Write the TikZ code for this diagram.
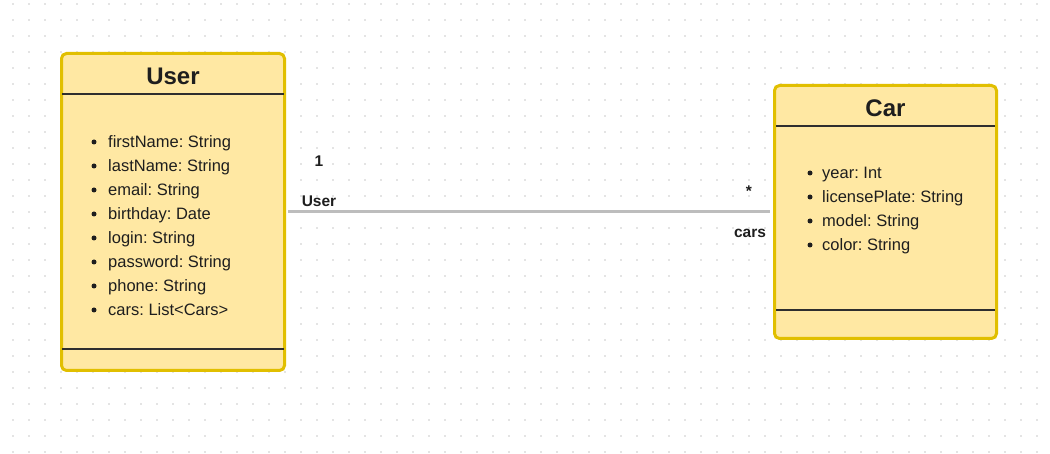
\documentclass[tikz,border=0pt]{standalone}
\usepackage{fontspec}
\setmainfont{Liberation Sans}
\frenchspacing
\definecolor{boxfill}{HTML}{FFE8A3}
\definecolor{boxline}{HTML}{E1BF00}
\definecolor{sepline}{HTML}{2E2E2E}
\definecolor{txt}{HTML}{1E1E1E}
\definecolor{conn}{HTML}{BDBDBD}
\definecolor{griddot}{HTML}{E4E4E4}
\tikzset{
  classbox/.style={draw=boxline, fill=boxfill, line width=3pt, rounded corners=5pt, inner sep=0pt},
  title/.style={font=\bfseries\fontsize{24}{28}\selectfont, text=txt, inner sep=0pt},
  item/.style={font=\fontsize{16.5}{20}\selectfont\frenchspacing, text=txt, anchor=base west, inner sep=0pt},
  bullet/.style={fill=txt, circle, inner sep=0pt, minimum size=5pt},
  sep/.style={draw=sepline, line width=2pt},
  assoc/.style={draw=conn, line width=3pt},
  rolelabel/.style={font=\bfseries\fontsize{15.5}{18}\selectfont, text=txt, inner sep=0pt},
}
\begin{document}
\begin{tikzpicture}[x=1pt,y=-1pt]
\useasboundingbox (0,0) rectangle (1050,454);
\fill[white] (0,0) rectangle (1050,454);
\foreach \i in {0,...,65} {
  \foreach \j in {0,...,28} {
    \fill[griddot] (13+16*\i-1, 4+16*\j-1) rectangle ++(2,2);
  }
}
% User class
\node[classbox, minimum width=223pt, minimum height=317pt] (user) at (173,212) {};
\node[title] (usertitle) at (173,76) {User};
\draw[sep] (62,94) -- (284,94);
\draw[sep] (62,349) -- (284,349);
\foreach \t [count=\k from 0] in {firstName: String, lastName: String, email: String, birthday: Date, login: String, password: String, phone: String, {cars: List<Cars>}} {
  \node[bullet] (ub\k) at (94,142+24*\k) {};
  \node[item] (ui\k) at (108,148+24*\k) {\t};
}
% Car class
\node[classbox, minimum width=222pt, minimum height=253pt] (car) at (885.5,212) {};
\node[title] (cartitle) at (885.5,108) {Car};
\draw[sep] (776,126) -- (995,126);
\draw[sep] (776,310) -- (995,310);
\foreach \t [count=\k from 0] in {year: Int, licensePlate: String, model: String, color: String} {
  \node[bullet] (cb\k) at (810,173+24*\k) {};
  \node[item] (ci\k) at (822,179+24*\k) {\t};
}
% association
\draw[assoc, shorten <=2pt, shorten >=3pt] (user.east) -- (car.west);
\node[rolelabel] (m1) at (319,161) {1};
\node[rolelabel] (r1) at (319,201) {User};
\node[rolelabel] (m2) at (749,191) {*};
\node[rolelabel] (r2) at (750,233) {cars};
\end{tikzpicture}
\end{document}
